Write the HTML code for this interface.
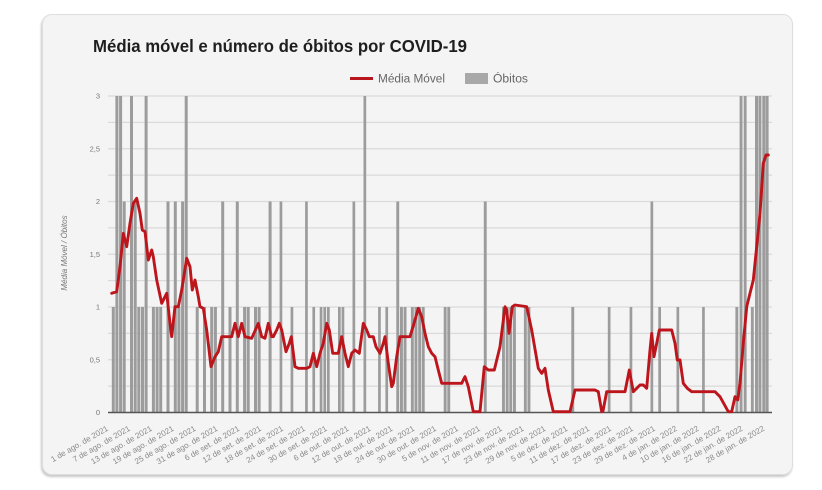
<!DOCTYPE html>
<html>
<head>
<meta charset="utf-8">
<style>
  html,body{margin:0;padding:0;background:#ffffff;}
  body{width:822px;height:490px;overflow:hidden;position:relative;}
  .card{position:absolute;left:42px;top:14px;width:749px;height:459px;background:#f4f4f5;border:1px solid #dedede;border-radius:10px;box-shadow:-1px 2px 2px rgba(0,0,0,0.22);}
  svg{position:absolute;left:0;top:0;}
  text{font-family:"Liberation Sans",Arial,sans-serif;}
</style>
</head>
<body>
<div class="card"></div>
<svg width="822" height="490" viewBox="0 0 822 490" xmlns="http://www.w3.org/2000/svg">
  <!-- Title -->
  <text x="93" y="52" font-size="17.5" font-weight="bold" fill="#1e1e1e" textLength="374" lengthAdjust="spacingAndGlyphs">Média móvel e número de óbitos por COVID-19</text>

  <!-- Legend -->
  <line x1="350" y1="78.5" x2="373" y2="78.5" stroke="#b8161c" stroke-width="3"/>
  <text x="378" y="82.5" font-size="11.5" fill="#666" textLength="67" lengthAdjust="spacingAndGlyphs">Média Móvel</text>
  <rect x="465" y="73" width="23" height="11" fill="#a8a8a8"/>
  <text x="493" y="82.5" font-size="11.5" fill="#666" textLength="35" lengthAdjust="spacingAndGlyphs">Óbitos</text>

  <!-- Gridlines -->
  <g stroke="#dadada" stroke-width="1.2">
    <line x1="108" y1="386.1" x2="772" y2="386.1"/>
    <line x1="108" y1="359.75" x2="772" y2="359.75"/>
    <line x1="108" y1="333.4" x2="772" y2="333.4"/>
    <line x1="108" y1="307" x2="772" y2="307"/>
    <line x1="108" y1="280.6" x2="772" y2="280.6"/>
    <line x1="108" y1="254.25" x2="772" y2="254.25"/>
    <line x1="108" y1="227.9" x2="772" y2="227.9"/>
    <line x1="108" y1="201.5" x2="772" y2="201.5"/>
    <line x1="108" y1="175.1" x2="772" y2="175.1"/>
    <line x1="108" y1="148.75" x2="772" y2="148.75"/>
    <line x1="108" y1="122.4" x2="772" y2="122.4"/>
    <line x1="108" y1="96" x2="772" y2="96"/>
  </g>

  <!-- Y labels -->
  <g font-size="7.5" fill="#777" text-anchor="end">
    <text x="100" y="415">0</text>
    <text x="100" y="362.3">0,5</text>
    <text x="100" y="309.5">1</text>
    <text x="100" y="256.8">1,5</text>
    <text x="100" y="204">2</text>
    <text x="100" y="151.3">2,5</text>
    <text x="100" y="98.5">3</text>
  </g>
  <text transform="translate(67,253) rotate(-90)" font-size="8" font-style="italic" fill="#777" text-anchor="middle">Média Móvel / Óbitos</text>

  <!-- Bars -->
  <g fill="#9c9c9c">
    <rect x="111.8" y="307" width="3" height="105.5"/>
    <rect x="115.4" y="96" width="3" height="316.5"/>
    <rect x="119.1" y="96" width="3" height="316.5"/>
    <rect x="122.7" y="201.5" width="3" height="211"/>
    <rect x="130.0" y="96" width="3" height="316.5"/>
    <rect x="133.7" y="201.5" width="3" height="211"/>
    <rect x="137.3" y="307" width="3" height="105.5"/>
    <rect x="141.0" y="307" width="3" height="105.5"/>
    <rect x="144.6" y="96" width="3" height="316.5"/>
    <rect x="151.9" y="307" width="3" height="105.5"/>
    <rect x="155.6" y="307" width="3" height="105.5"/>
    <rect x="159.2" y="307" width="3" height="105.5"/>
    <rect x="166.5" y="201.5" width="3" height="211"/>
    <rect x="173.8" y="201.5" width="3" height="211"/>
    <rect x="177.4" y="307" width="3" height="105.5"/>
    <rect x="181.1" y="201.5" width="3" height="211"/>
    <rect x="184.7" y="96" width="3" height="316.5"/>
    <rect x="195.7" y="307" width="3" height="105.5"/>
    <rect x="203.0" y="307" width="3" height="105.5"/>
    <rect x="210.2" y="307" width="3" height="105.5"/>
    <rect x="213.9" y="307" width="3" height="105.5"/>
    <rect x="221.2" y="201.5" width="3" height="211"/>
    <rect x="228.5" y="307" width="3" height="105.5"/>
    <rect x="235.8" y="201.5" width="3" height="211"/>
    <rect x="243.1" y="307" width="3" height="105.5"/>
    <rect x="246.7" y="307" width="3" height="105.5"/>
    <rect x="254.0" y="307" width="3" height="105.5"/>
    <rect x="257.6" y="307" width="3" height="105.5"/>
    <rect x="268.6" y="201.5" width="3" height="211"/>
    <rect x="279.6" y="201.5" width="2.7" height="211"/>
    <rect x="290.6" y="307" width="2.7" height="105.5"/>
    <rect x="305.1" y="201.5" width="2.7" height="211"/>
    <rect x="312.4" y="307" width="2.7" height="105.5"/>
    <rect x="319.7" y="307" width="2.7" height="105.5"/>
    <rect x="323.4" y="307" width="2.7" height="105.5"/>
    <rect x="327.0" y="307" width="2.7" height="105.5"/>
    <rect x="338.0" y="307" width="2.7" height="105.5"/>
    <rect x="341.6" y="307" width="2.7" height="105.5"/>
    <rect x="352.5" y="201.5" width="2.7" height="211"/>
    <rect x="363.5" y="96" width="2.7" height="316.5"/>
    <rect x="378.1" y="307" width="2.7" height="105.5"/>
    <rect x="385.4" y="307" width="2.7" height="105.5"/>
    <rect x="396.3" y="201.5" width="2.9" height="211"/>
    <rect x="400.0" y="307" width="2.9" height="105.5"/>
    <rect x="403.6" y="307" width="2.9" height="105.5"/>
    <rect x="410.9" y="307" width="2.9" height="105.5"/>
    <rect x="414.5" y="307" width="2.9" height="105.5"/>
    <rect x="418.2" y="307" width="2.9" height="105.5"/>
    <rect x="421.8" y="307" width="2.9" height="105.5"/>
    <rect x="443.7" y="307" width="2.9" height="105.5"/>
    <rect x="447.3" y="307" width="2.9" height="105.5"/>
    <rect x="483.8" y="201.5" width="2.9" height="211"/>
    <rect x="502.0" y="307" width="2.9" height="105.5"/>
    <rect x="505.7" y="307" width="2.9" height="105.5"/>
    <rect x="509.3" y="307" width="2.9" height="105.5"/>
    <rect x="513.0" y="307" width="2.9" height="105.5"/>
    <rect x="523.9" y="307" width="2.9" height="105.5"/>
    <rect x="527.5" y="307" width="2.9" height="105.5"/>
    <rect x="571.3" y="307" width="2.9" height="105.5"/>
    <rect x="607.8" y="307" width="2.7" height="105.5"/>
    <rect x="629.6" y="307" width="2.7" height="105.5"/>
    <rect x="650.5" y="201.5" width="2.7" height="211"/>
    <rect x="658.3" y="307" width="2.7" height="105.5"/>
    <rect x="676.5" y="307" width="2.7" height="105.5"/>
    <rect x="702.1" y="307" width="2.7" height="105.5"/>
    <rect x="735.4" y="307" width="2.9" height="105.5"/>
    <rect x="739.6" y="96" width="2.9" height="316.5"/>
    <rect x="743.7" y="96" width="2.9" height="316.5"/>
    <rect x="750.9" y="307" width="2.9" height="105.5"/>
    <rect x="755.0" y="96" width="3.0" height="316.5"/>
    <rect x="758.4" y="96" width="3.0" height="316.5"/>
    <rect x="762.3" y="96" width="3.0" height="316.5"/>
    <rect x="765.6" y="96" width="3.0" height="316.5"/>
  </g>

  <!-- Axis baseline -->
  <line x1="108" y1="412.5" x2="772" y2="412.5" stroke="#555" stroke-width="1.5"/>

  <!-- Moving average line -->
  <polyline fill="none" stroke="#bd151c" stroke-width="2.9" stroke-linejoin="round" stroke-linecap="round"
    points="111.7,293.3 116.7,291.7 120,266.7 123.3,233.3 126.7,246.7 130,223.3 133.3,203.3 136.7,198.3 140,213.3 142.3,230 145,231.7 148.3,260 151.7,250 153.3,256.7 156.7,280 161.7,303.3 166.7,293.3 170,323.3 171.7,336.7 175,306.7 178.3,306.7 181.7,290 186.7,258.3 190,266.7 192.3,290 195,280 198.3,296.7 200,306.7 203.3,308.3 206.7,330 211,366.7 215,356.7 218.3,351.7 221.7,336.7 231.7,336.7 235,323.3 238.3,336.7 241.7,323.3 245,336.7 251.7,338.3 258.3,323.3 261.7,336.7 265,338.3 268.3,323.3 271.7,336.7 273.3,336.7 276.7,330 279.3,323.3 281.7,330 286,351.7 289.3,343.3 291.3,336.7 295,366.7 298.3,368.3 306.7,368.3 310,366.7 313.3,353.3 316.7,366.7 320,353.3 323.3,343.3 326.7,323.3 329.3,330 332.7,353.3 338.3,353.3 341.7,336.7 345,353.3 348.3,366.7 351.7,353.3 355,350 359.3,353.3 363.3,323.3 366.7,330 369.3,336.7 373.3,336.7 376,346.7 380,353.3 383.3,343.3 385,336.7 388.3,363.3 391.7,386.7 393.3,383.3 396.7,356.7 400,336.7 410,336.7 414,323.3 418.3,308.3 421.7,316.7 425,333.3 428.3,346.7 431.7,353.3 435,356.7 438.3,370 441.7,383.3 461.7,383.3 465,376.7 468.3,386.7 473.3,411.7 480,411.7 484.3,366.7 488.3,370 494.3,370 500,346.7 505,306.7 506.7,310 509,333.3 512.3,306.7 515,305 526.7,306.7 531.7,330 538.3,368.3 541.7,373.3 545,368.3 548.3,390 553.3,411.7 570,411.7 575,390 595,390 598.3,391.7 601.7,411.7 603,411 606.7,391.7 625,391.7 629.3,370 633.3,391.7 636.7,388.3 640,385 643.3,385 646.7,388.3 650,350 651.7,333.3 654,356.7 656.7,343.3 659.3,330 671.7,330 675,343.3 677.3,360 680,360 683.3,383.3 687.3,388.3 691.7,391.7 715,391.7 720,396.7 728.3,411.7 731.7,411.7 735,396.7 737.7,400 740,383.3 743.3,343.3 746.7,306.7 750,293.3 753.3,280 756.7,246.7 760,213.3 763.3,163.3 766,155 768.3,155"/>

  <!-- X labels -->
  <g font-size="8" fill="#888" text-anchor="end">
    <text transform="translate(108.8,430) rotate(-30)">1 de ago. de 2021</text>
    <text transform="translate(130.7,430) rotate(-30)">7 de ago. de 2021</text>
    <text transform="translate(152.6,430) rotate(-30)">13 de ago. de 2021</text>
    <text transform="translate(174.4,430) rotate(-30)">19 de ago. de 2021</text>
    <text transform="translate(196.3,430) rotate(-30)">25 de ago. de 2021</text>
    <text transform="translate(218.2,430) rotate(-30)">31 de ago. de 2021</text>
    <text transform="translate(240.1,430) rotate(-30)">6 de set. de 2021</text>
    <text transform="translate(261.9,430) rotate(-30)">12 de set. de 2021</text>
    <text transform="translate(283.8,430) rotate(-30)">18 de set. de 2021</text>
    <text transform="translate(305.7,430) rotate(-30)">24 de set. de 2021</text>
    <text transform="translate(327.6,430) rotate(-30)">30 de set. de 2021</text>
    <text transform="translate(349.4,430) rotate(-30)">6 de out. de 2021</text>
    <text transform="translate(371.3,430) rotate(-30)">12 de out. de 2021</text>
    <text transform="translate(393.2,430) rotate(-30)">18 de out. de 2021</text>
    <text transform="translate(415.1,430) rotate(-30)">24 de out. de 2021</text>
    <text transform="translate(436.9,430) rotate(-30)">30 de out. de 2021</text>
    <text transform="translate(458.8,430) rotate(-30)">5 de nov. de 2021</text>
    <text transform="translate(480.7,430) rotate(-30)">11 de nov. de 2021</text>
    <text transform="translate(502.6,430) rotate(-30)">17 de nov. de 2021</text>
    <text transform="translate(524.4,430) rotate(-30)">23 de nov. de 2021</text>
    <text transform="translate(546.3,430) rotate(-30)">29 de nov. de 2021</text>
    <text transform="translate(568.2,430) rotate(-30)">5 de dez. de 2021</text>
    <text transform="translate(590.1,430) rotate(-30)">11 de dez. de 2021</text>
    <text transform="translate(611.9,430) rotate(-30)">17 de dez. de 2021</text>
    <text transform="translate(633.8,430) rotate(-30)">23 de dez. de 2021</text>
    <text transform="translate(655.7,430) rotate(-30)">29 de dez. de 2021</text>
    <text transform="translate(677.6,430) rotate(-30)">4 de jan. de 2022</text>
    <text transform="translate(699.5,430) rotate(-30)">10 de jan. de 2022</text>
    <text transform="translate(721.3,430) rotate(-30)">16 de jan. de 2022</text>
    <text transform="translate(743.2,430) rotate(-30)">22 de jan. de 2022</text>
    <text transform="translate(765.1,430) rotate(-30)">28 de jan. de 2022</text>
  </g>
</svg>
</body>
</html>
